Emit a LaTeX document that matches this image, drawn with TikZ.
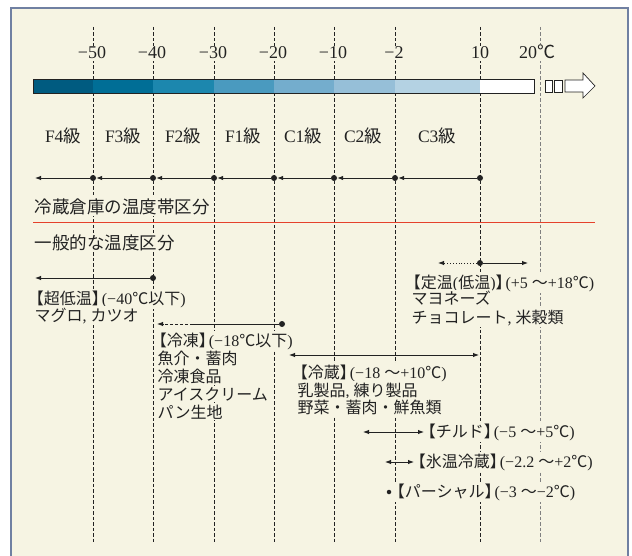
\documentclass[tikz,border=0pt]{standalone}
\usepackage{fontspec}
\setmainfont{Liberation Serif}
\newfontfamily\jp{Noto Sans CJK JP}
\usetikzlibrary{arrows.meta}
\definecolor{bg}{HTML}{F6F4E3}
\definecolor{framec}{HTML}{7080A2}
\definecolor{redl}{HTML}{E5412B}
\definecolor{ink}{HTML}{222222}
\definecolor{bA}{HTML}{005B80}
\definecolor{bB}{HTML}{006E96}
\definecolor{bC}{HTML}{1C87AE}
\definecolor{bD}{HTML}{4A9ABF}
\definecolor{bE}{HTML}{74ADCD}
\definecolor{bF}{HTML}{96BFD8}
\definecolor{bG}{HTML}{B4D2E3}
\newcommand{\J}[1]{{\jp #1}}
\newcommand{\LB}{\hspace{-0.42em}{\jp 【}}
\newcommand{\RB}{{\jp 】}\hspace{-0.38em}}
\tikzset{
  vline/.style={draw=ink, line width=0.9pt, dash pattern=on 3.5pt off 2pt},
  vlinegray/.style={draw=black!50, line width=0.9pt, dash pattern=on 3.5pt off 2pt},
  numlbl/.style={anchor=base, inner sep=1.5pt, fill=bg, text=ink, font=\fontsize{18}{20}\selectfont},
  classlbl/.style={anchor=base, inner sep=1.5pt, fill=bg, text=ink, font=\fontsize{17.5}{19}\selectfont},
  headlbl/.style={anchor=base west, inner sep=1.5pt, fill=bg, text=ink, font=\fontsize{17.5}{19}\selectfont},
  txt/.style={anchor=base west, inner sep=1.5pt, fill=bg, text=ink, font=\fontsize{16}{18}\selectfont},
  dotnode/.style={circle, fill=ink, inner sep=0pt, minimum size=6pt},
  smalldot/.style={circle, fill=ink, inner sep=0pt, minimum size=4.5pt},
  conn/.style={draw=ink, line width=0.9pt},
  tipL/.style={-{Latex[length=6pt,width=4.5pt]}},
  tipLR/.style={{Latex[length=6pt,width=4.5pt]}-{Latex[length=6pt,width=4.5pt]}},
}
\begin{document}
\begin{tikzpicture}[x=1pt,y=-1pt]
\useasboundingbox (0,0) rectangle (632,556);
\fill[white] (0,0) rectangle (632,556);
\fill[bg] (11,8) rectangle (628,556);
\draw[framec, line width=1.5pt] (11,556) -- (11,8) -- (628,8) -- (628,556);
% vertical dashed lines
\foreach \x in {93,153,214,274,334,395,480} \draw[vline] (\x,27) -- (\x,542);
\draw[vlinegray] (540,27) -- (540,542);
% temperature bar
\fill[bA] (33,79) rectangle (93,93);
\fill[bB] (93,79) rectangle (153,93);
\fill[bC] (153,79) rectangle (214,93);
\fill[bD] (214,79) rectangle (274,93);
\fill[bE] (274,79) rectangle (334,93);
\fill[bF] (334,79) rectangle (395,93);
\fill[bG] (395,79) rectangle (480,93);
\fill[white] (480,79) rectangle (534,93);
\draw[ink, line width=0.8pt] (33,79) rectangle (534,93);
% small rects and outline arrow
\draw[ink, line width=0.7pt, fill=white] (545,80) rectangle (552,92);
\draw[ink, line width=0.7pt, fill=white] (554,80) rectangle (562,92);
\draw[ink, line width=0.7pt, fill=white] (565,80) -- (583,80) -- (583,73) -- (595,86) -- (583,98) -- (583,92) -- (565,92) -- cycle;
% numbers
\node[numlbl] (n1) at (92,59) {−50};
\node[numlbl] (n2) at (152,59) {−40};
\node[numlbl] (n3) at (213,59) {−30};
\node[numlbl] (n4) at (273,59) {−20};
\node[numlbl] (n5) at (333,59) {−10};
\node[numlbl] (n6) at (394,59) {−2};
\node[numlbl] (n7) at (480,59) {10};
\node[numlbl] (n8) at (537,59) {20\J{℃}};
% class labels
\node[classlbl] (k1) at (63,143) {F4\J{級}};
\node[classlbl] (k2) at (123,143) {F3\J{級}};
\node[classlbl] (k3) at (183,143) {F2\J{級}};
\node[classlbl] (k4) at (243,143) {F1\J{級}};
\node[classlbl] (k5) at (303,143) {C1\J{級}};
\node[classlbl] (k6) at (363,143) {C2\J{級}};
\node[classlbl] (k7) at (437,143) {C3\J{級}};
% class arrows
\coordinate (r0) at (35,178);
\node[dotnode] (r1) at (93,178) {};
\node[dotnode] (r2) at (153,178) {};
\node[dotnode] (r3) at (214,178) {};
\node[dotnode] (r4) at (274,178) {};
\node[dotnode] (r5) at (334,178) {};
\node[dotnode] (r6) at (395,178) {};
\node[dotnode] (r7) at (480,178) {};
\draw[conn, tipL] (r7) -- (r6);
\draw[conn, tipL] (r6) -- (r5);
\draw[conn, tipL] (r5) -- (r4);
\draw[conn, tipL] (r4) -- (r3);
\draw[conn, tipL] (r3) -- (r2);
\draw[conn, tipL] (r2) -- (r1);
\draw[conn, tipL] (r1) -- (r0);
% headings and red line
\node[headlbl] (h1) at (33,213.5) {\J{冷蔵倉庫の温度帯区分}};
\draw[redl, line width=1.3pt] (33,222.5) -- (595,222.5);
\node[headlbl] (h2) at (33,249.5) {\J{一般的な温度区分}};
% super low temperature
\coordinate (a0) at (35,278);
\node[dotnode] (a1) at (153,278) {};
\draw[conn, tipL] (a1) -- (a0);
\node[txt] (ta1) at (33,304) {\LB\J{超低温}\RB(−40\J{℃以下})};
\node[txt] (ta2) at (33,321) {\J{マグロ}, \J{カツオ}};
% frozen
\coordinate (b0) at (157,324);
\coordinate (bm) at (193,324);
\node[dotnode] (b1) at (282,324) {};
\draw[conn] (b1) -- (bm);
\draw[conn, dash pattern=on 3pt off 2pt, tipL] (bm) -- (b0);
\node[txt] (tb1) at (156,346) {\LB\J{冷凍}\RB(−18\J{℃以下})};
\node[txt] (tb2) at (156,364) {\J{魚介・蓄肉}};
\node[txt] (tb3) at (156,382) {\J{冷凍食品}};
\node[txt] (tb4) at (156,400) {\J{アイスクリーム}};
\node[txt] (tb5) at (156,418) {\J{パン生地}};
% refrigerated
\coordinate (c0) at (289,355);
\coordinate (c1) at (479,355);
\draw[conn, tipLR] (c0) -- (c1);
\node[txt] (tc1) at (297,378) {\LB\J{冷蔵}\RB(−18 \J{〜}+10\J{℃})};
\node[txt] (tc2) at (296,396) {\J{乳製品}, \J{練り製品}};
\node[txt] (tc3) at (296,413) {\J{野菜・蓄肉・鮮魚類}};
% constant temperature
\coordinate (d0) at (438,263);
\node[dotnode] (d1) at (480,263) {};
\coordinate (d2) at (528,263);
\draw[conn, dotted, tipL] (d1) -- (d0);
\draw[conn, tipL] (d1) -- (d2);
\node[txt] (td1) at (410,288) {\LB\J{定温}(\J{低温})\RB(+5 \J{〜}+18\J{℃})};
\node[txt] (td2) at (410,305) {\J{マヨネーズ}};
\node[txt] (td3) at (410,323) {\J{チョコレート}, \J{米穀類}};
% chilled
\coordinate (e0) at (363,432);
\coordinate (e1) at (424,432);
\draw[conn, tipLR] (e0) -- (e1);
\node[txt, anchor=west] (te1) at (425,432) {\LB\J{チルド}\RB(−5 \J{〜}+5\J{℃})};
% ice temperature
\coordinate (f0) at (385,462);
\coordinate (f1) at (414,462);
\draw[conn, tipLR] (f0) -- (f1);
\node[txt, anchor=west] (tf1) at (415,462) {\LB\J{氷温冷蔵}\RB(−2.2 \J{〜}+2\J{℃})};
% partial
\node[smalldot] (g0) at (389,492) {};
\node[txt, anchor=west] (tg1) at (394,492) {\LB\J{パーシャル}\RB(−3 \J{〜}−2\J{℃})};
\end{tikzpicture}
\end{document}
